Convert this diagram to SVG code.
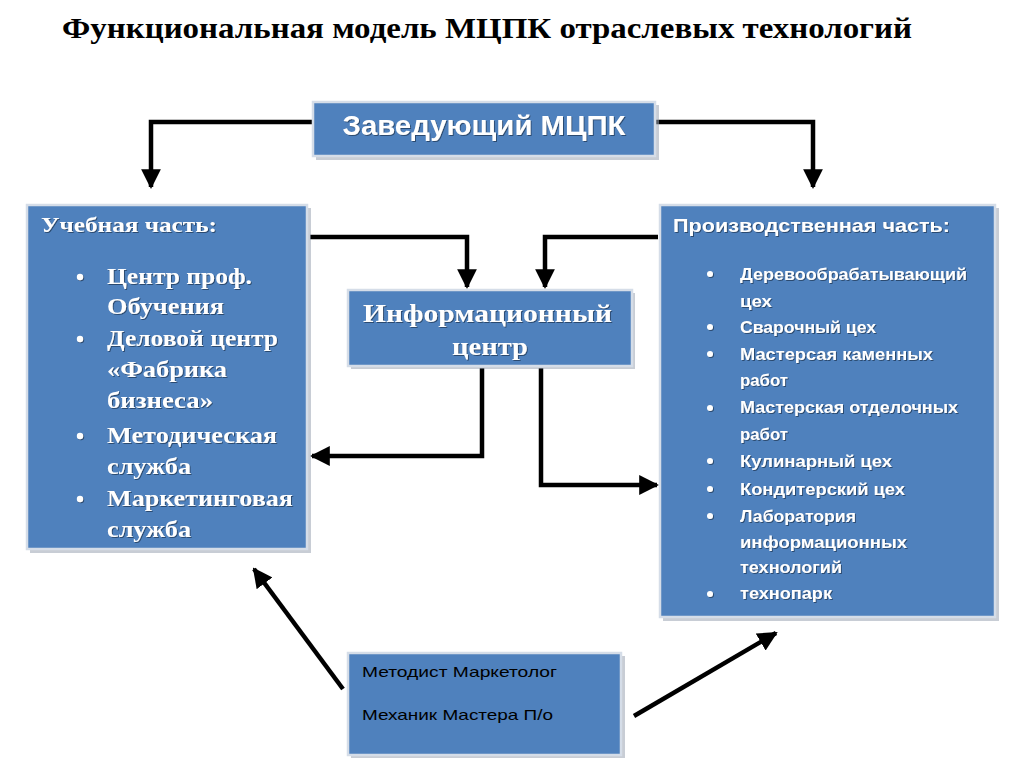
<svg xmlns="http://www.w3.org/2000/svg" width="1024" height="780" viewBox="0 0 1024 780">
<style>
.box{fill:#4F81BD;stroke:#d5dde8;stroke-width:2.5}
.shd{fill:#9aa4b2;opacity:0.55}
.conn{fill:none;stroke:#000;stroke-width:4.5;stroke-linejoin:miter}
.title{font-family:"Liberation Serif",serif;font-weight:bold;fill:#000}
.serifw{font-family:"Liberation Serif",serif;font-weight:bold;fill:#fff}
.sansw{font-family:"Liberation Sans",Arial,sans-serif;font-weight:bold;fill:#fff}
.sansb{font-family:"Liberation Sans",Arial,sans-serif;fill:#000}
</style>
<defs>
<marker id="ah" viewBox="0 0 10 10" refX="9" refY="5" markerWidth="4.4" markerHeight="4.4" orient="auto" markerUnits="strokeWidth">
<path d="M0,0 L10,5 L0,10 Z" fill="#000"/>
</marker>
<filter id="ts" x="-5%" y="-20%" width="110%" height="140%">
<feDropShadow dx="1" dy="1" stdDeviation="0.6" flood-color="#1f3350" flood-opacity="0.7"/>
</filter>
</defs>
<rect width="1024" height="780" fill="#fff"/>
<text class="title" x="62" y="38" font-size="30" textLength="850" lengthAdjust="spacingAndGlyphs">Функциональная модель МЦПК отраслевых технологий</text>

<g id="connectors">
<path class="conn" d="M313,122 H151 V187" marker-end="url(#ah)"/>
<path class="conn" d="M655,122 H813 V187" marker-end="url(#ah)"/>
<path class="conn" d="M310,237 H467 V287" marker-end="url(#ah)"/>
<path class="conn" d="M658,237 H545 V287" marker-end="url(#ah)"/>
<path class="conn" d="M482,368 V456 H312" marker-end="url(#ah)"/>
<path class="conn" d="M541,368 V485 H657" marker-end="url(#ah)"/>
<path class="conn" d="M343,689 L254,569" marker-end="url(#ah)"/>
<path class="conn" d="M634,716 L776,633" marker-end="url(#ah)"/>
</g>

<g id="head">
<rect class="shd" x="316" y="105" width="343" height="55"/>
<rect class="box" x="313" y="102" width="342" height="54"/>
<text class="sansw" x="484" y="135" font-size="27" text-anchor="middle" textLength="283" lengthAdjust="spacingAndGlyphs" filter="url(#ts)">Заведующий МЦПК</text>
</g>

<g id="study">
<rect class="shd" x="30" y="208" width="281" height="345"/>
<rect class="box" x="27" y="205" width="280" height="344"/>
<g class="serifw" font-size="23" filter="url(#ts)">
<text x="41" y="232" font-size="21" textLength="176" lengthAdjust="spacingAndGlyphs">Учебная часть:</text>
<circle cx="80" cy="277" r="3.2" fill="#fff"/>
<circle cx="80" cy="339" r="3.2" fill="#fff"/>
<circle cx="80" cy="436" r="3.2" fill="#fff"/>
<circle cx="80" cy="499" r="3.2" fill="#fff"/>
<text x="107" y="284" textLength="145" lengthAdjust="spacingAndGlyphs">Центр проф.</text>
<text x="107" y="314" textLength="117" lengthAdjust="spacingAndGlyphs">Обучения</text>
<text x="107" y="346" textLength="171" lengthAdjust="spacingAndGlyphs">Деловой центр</text>
<text x="107" y="377" textLength="120" lengthAdjust="spacingAndGlyphs">«Фабрика</text>
<text x="107" y="408" textLength="106" lengthAdjust="spacingAndGlyphs">бизнеса»</text>
<text x="107" y="443" textLength="170" lengthAdjust="spacingAndGlyphs">Методическая</text>
<text x="107" y="474" textLength="84" lengthAdjust="spacingAndGlyphs">служба</text>
<text x="107" y="506" textLength="186" lengthAdjust="spacingAndGlyphs">Маркетинговая</text>
<text x="107" y="537" textLength="84" lengthAdjust="spacingAndGlyphs">служба</text>
</g>
</g>

<g id="production">
<rect class="shd" x="663" y="208" width="336" height="413"/>
<rect class="box" x="660" y="205" width="335" height="412"/>
<g class="sansw" font-size="16" filter="url(#ts)">
<text x="673" y="232" font-size="19" textLength="277" lengthAdjust="spacingAndGlyphs">Производственная часть:</text>
<g fill="#fff">
<circle cx="710" cy="274" r="3"/>
<circle cx="710" cy="327" r="3"/>
<circle cx="710" cy="354" r="3"/>
<circle cx="710" cy="408" r="3"/>
<circle cx="710" cy="461" r="3"/>
<circle cx="710" cy="489" r="3"/>
<circle cx="710" cy="516" r="3"/>
<circle cx="710" cy="594" r="3"/>
</g>
<text x="740" y="280" textLength="227" lengthAdjust="spacingAndGlyphs">Деревообрабатывающий</text>
<text x="740" y="307" textLength="32" lengthAdjust="spacingAndGlyphs">цех</text>
<text x="740" y="333" textLength="136" lengthAdjust="spacingAndGlyphs">Сварочный цех</text>
<text x="740" y="360" textLength="193" lengthAdjust="spacingAndGlyphs">Мастерсая каменных</text>
<text x="740" y="386" textLength="48" lengthAdjust="spacingAndGlyphs">работ</text>
<text x="740" y="413" textLength="218" lengthAdjust="spacingAndGlyphs">Мастерская отделочных</text>
<text x="740" y="440" textLength="48" lengthAdjust="spacingAndGlyphs">работ</text>
<text x="740" y="467" textLength="152" lengthAdjust="spacingAndGlyphs">Кулинарный цех</text>
<text x="740" y="495" textLength="165" lengthAdjust="spacingAndGlyphs">Кондитерский цех</text>
<text x="740" y="522" textLength="116" lengthAdjust="spacingAndGlyphs">Лаборатория</text>
<text x="740" y="548" textLength="167" lengthAdjust="spacingAndGlyphs">информационных</text>
<text x="740" y="573" textLength="102" lengthAdjust="spacingAndGlyphs">технологий</text>
<text x="740" y="599" textLength="92" lengthAdjust="spacingAndGlyphs">технопарк</text>
</g>
</g>

<g id="info">
<rect class="shd" x="351" y="293" width="284" height="76"/>
<rect class="box" x="348" y="290" width="284" height="76"/>
<g class="serifw" font-size="25" filter="url(#ts)">
<text x="363" y="322" textLength="249" lengthAdjust="spacingAndGlyphs">Информационный</text>
<text x="452" y="355" textLength="76" lengthAdjust="spacingAndGlyphs">центр</text>
</g>
</g>

<g id="staff">
<rect class="shd" x="351" y="656" width="274" height="102"/>
<rect class="box" x="348" y="653" width="273" height="102"/>
<text class="sansb" x="362" y="677" font-size="15" textLength="195" lengthAdjust="spacingAndGlyphs">Методист Маркетолог</text>
<text class="sansb" x="362" y="720" font-size="15" textLength="191" lengthAdjust="spacingAndGlyphs">Механик Мастера П/о</text>
</g>
</svg>
